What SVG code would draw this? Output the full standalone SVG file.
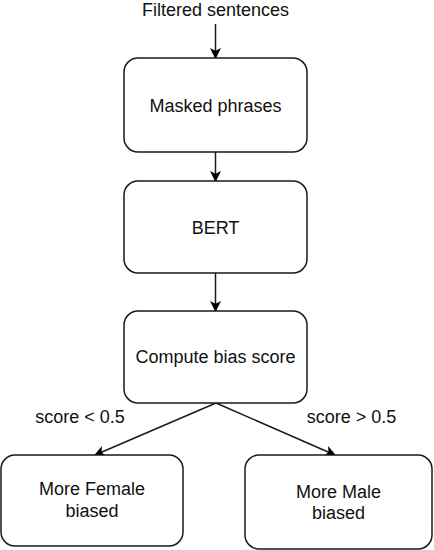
<svg xmlns="http://www.w3.org/2000/svg" width="434" height="550" viewBox="0 0 434 550">
<style>
.box{fill:#fff;stroke:#1a1a1a;stroke-width:1.5}
.t{font-family:"Liberation Sans",Arial,sans-serif;font-size:18px;fill:#111;text-anchor:middle}
.c{stroke:#1a1a1a;stroke-width:1.5;fill:none}
</style>
<defs>
<marker id="ah" viewBox="0 0 10 10" refX="9" refY="5" markerWidth="11" markerHeight="11" markerUnits="userSpaceOnUse" orient="auto">
<path d="M0,0 L10,5 L0,10 L2.5,5 Z" fill="#000"/>
</marker>
</defs>
<rect width="434" height="550" fill="#fff"/>
<text class="t" x="215.5" y="16">Filtered sentences</text>
<g id="connectors">
<line class="c" x1="215.5" y1="24" x2="215.5" y2="58" marker-end="url(#ah)"/>
<line class="c" x1="215.5" y1="152" x2="215.5" y2="181" marker-end="url(#ah)"/>
<line class="c" x1="215.5" y1="273" x2="215.5" y2="311" marker-end="url(#ah)"/>
<line class="c" x1="216" y1="403" x2="95" y2="455" marker-end="url(#ah)"/>
<line class="c" x1="216" y1="403" x2="335" y2="455" marker-end="url(#ah)"/>
<text class="t" x="80" y="423">score &lt; 0.5</text>
<text class="t" x="351.5" y="423">score &gt; 0.5</text>
</g>
<g id="masked">
<rect class="box" x="124" y="58" width="183" height="94" rx="14"/>
<text class="t" x="215.5" y="112">Masked phrases</text>
</g>
<g id="bert">
<rect class="box" x="124" y="181" width="183" height="92" rx="14"/>
<text class="t" x="215.5" y="234">BERT</text>
</g>
<g id="compute">
<rect class="box" x="124" y="311" width="183" height="92" rx="14"/>
<text class="t" x="215.5" y="363">Compute bias score</text>
</g>
<g id="female">
<rect class="box" x="1" y="455" width="182" height="91" rx="14"/>
<text class="t" x="92" y="495">More Female</text>
<text class="t" x="92" y="517">biased</text>
</g>
<g id="male">
<rect class="box" x="245" y="455" width="187" height="94" rx="14"/>
<text class="t" x="338.5" y="498">More Male</text>
<text class="t" x="338.5" y="519">biased</text>
</g>
</svg>
